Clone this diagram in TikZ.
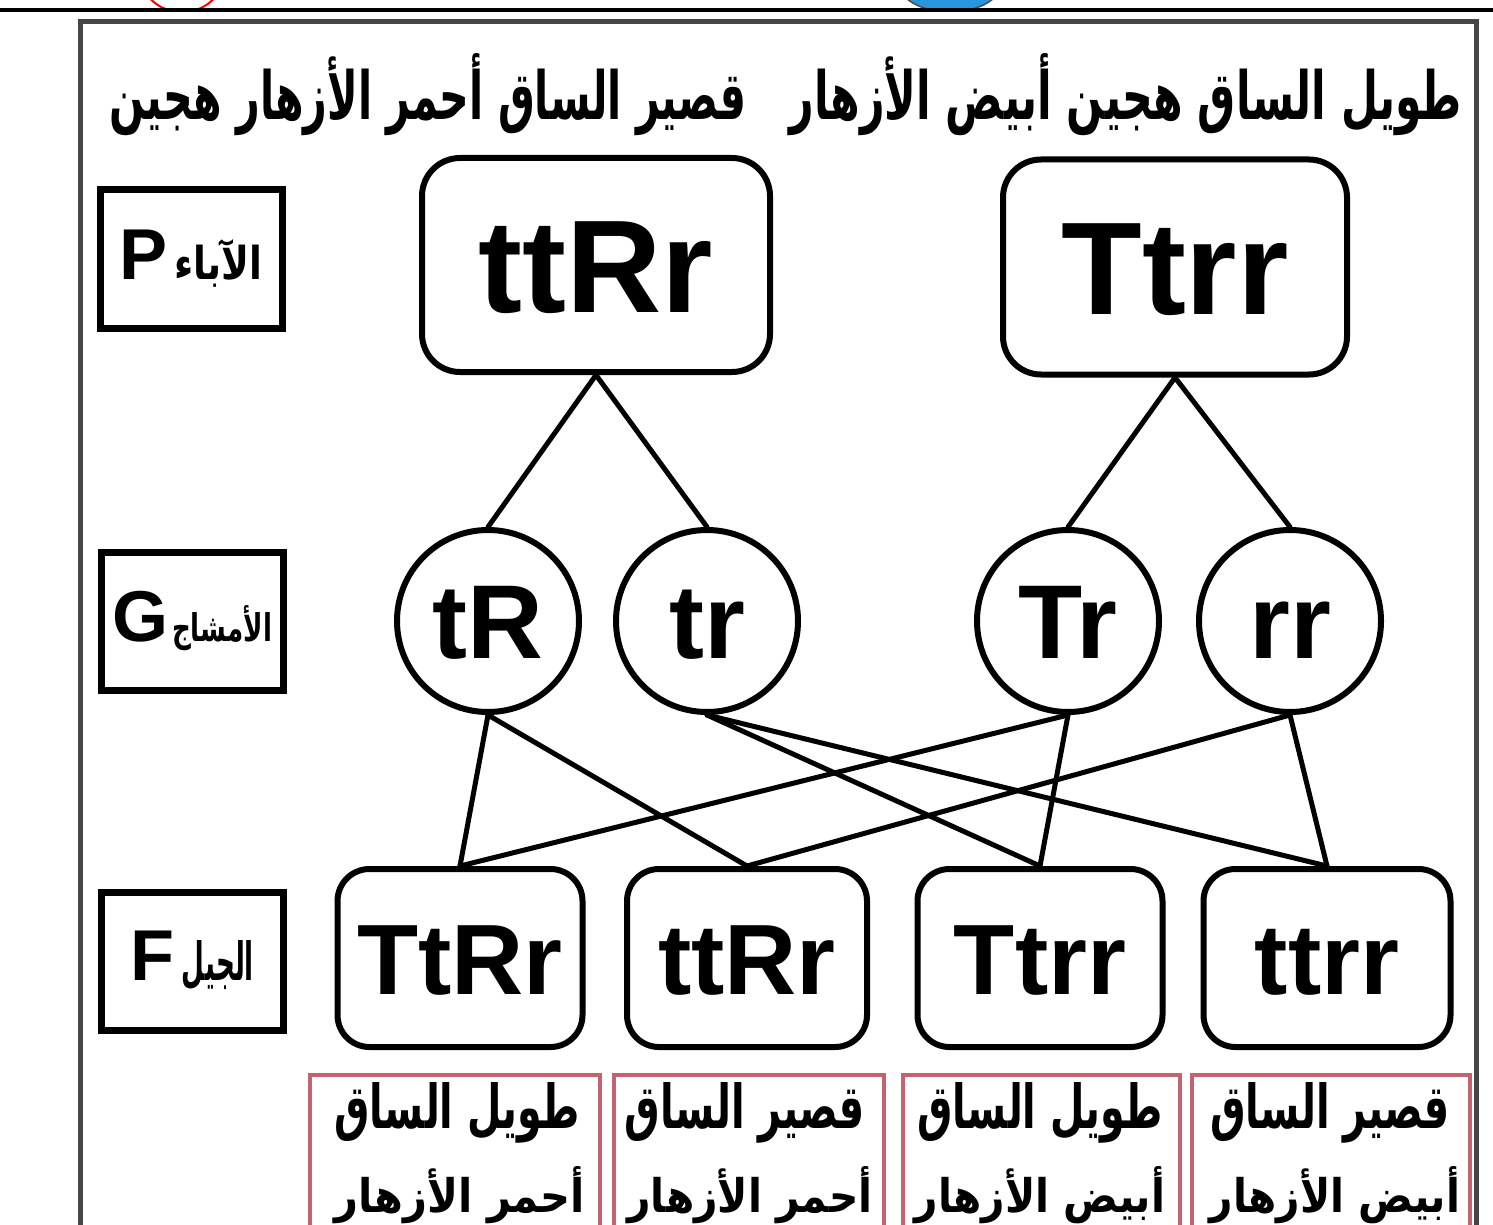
\documentclass[tikz,border=0pt]{standalone}
\usepackage{fontspec}
\usepackage{graphicx}
\setmainfont{Liberation Sans}
\newfontfamily\arabicfont[Script=Arabic]{DejaVu Sans}
\TeXXeTstate=1
\newcommand\arb{\arabicfont\bfseries}
\definecolor{redframe}{RGB}{196,98,112}
\definecolor{blueblob}{RGB}{40,150,220}
\definecolor{framegray}{RGB}{70,70,70}
\tikzset{
  lblbox/.style={draw=black, line width=7pt, minimum width=182pt, minimum height=138pt, inner sep=0pt,
    font=\fontsize{72}{72}\selectfont\bfseries},
  pbox/.style={draw=black, line width=6pt, rounded corners=38pt, inner sep=0pt,
    text height=95pt, text depth=0pt,
    font=\fontsize{132}{132}\selectfont\bfseries},
  gcirc/.style={circle, draw=black, line width=6pt, minimum size=182pt, inner sep=0pt,
    text height=75pt, text depth=0pt,
    font=\fontsize{105}{105}\selectfont\bfseries},
  fbox/.style={draw=black, line width=6pt, rounded corners=32pt, minimum height=178pt, inner sep=0pt,
    text height=72pt, text depth=0pt,
    font=\fontsize{100}{100}\selectfont\bfseries},
  redbox/.style={draw=redframe, line width=4.5pt, minimum height=180pt, inner sep=0pt},
  redtxt/.style={inner sep=0pt},
  hdr/.style={inner sep=0pt},
  link/.style={draw=black, line width=5pt, line cap=round},
}
\begin{document}
\begin{tikzpicture}[x=1pt,y=-1pt]
\useasboundingbox (0,0) rectangle (1493,1225);
\fill[white] (0,0) rectangle (1493,1225);
\begin{scope}
\clip (0,0) rectangle (1493,1225);
% top remnants
\draw[red, line width=2pt] (182,-22) ellipse [x radius=40pt, y radius=34pt];
\filldraw[fill=blueblob, draw=black!70, line width=1.5pt] (950,-18) ellipse [x radius=52pt, y radius=30pt];
\fill[white] (0,12) rectangle (1493,20);
\draw[black, line width=4pt] (0,10) -- (1493,10);
% outer frame
\draw[framegray, line width=5pt] (80,22) rectangle (1476,1280);

% header texts
\node[hdr] (hleft) at (428,95) {\resizebox{636pt}{66pt}{\arb\beginR قصير الساق أحمر الأزهار هجين\endR}};
\node[hdr] (hright) at (1126,95) {\resizebox{672pt}{66pt}{\arb\beginR طويل الساق هجين أبيض الأزهار\endR}};

% label boxes
\node[lblbox] (lp) at (191,259) {P\hspace{6pt}\resizebox{88pt}{40pt}{\arb\beginR الآباء\endR}};
\node[lblbox] (lg) at (192,621) {G\hspace{4pt}\resizebox{100pt}{36pt}{\arb\beginR الأمشاج\endR}};
\node[lblbox] (lf) at (192,961) {F\hspace{8pt}\resizebox{72pt}{40pt}{\arb\beginR الجيل\endR}};

% parents
\node[pbox, minimum width=348pt, minimum height=214pt] (p1) at (596,265) {ttRr};
\node[pbox, minimum width=344pt, minimum height=215pt] (p2) at (1175,267) {Ttrr};

% gametes
\node[gcirc] (g1) at (488,621) {tR};
\node[gcirc] (g2) at (707,621) {tr};
\node[gcirc] (g3) at (1068,621) {Tr};
\node[gcirc] (g4) at (1290,621) {rr};

% offspring
\node[fbox, minimum width=245pt] (f1) at (460,958) {TtRr};
\node[fbox, minimum width=240pt] (f2) at (747,958) {ttRr};
\node[fbox, minimum width=245pt] (f3) at (1040,958) {Ttrr};
\node[fbox, minimum width=247pt] (f4) at (1327,958) {ttrr};

% connectors parents -> gametes
\path[link] (p1.south) -- (g1.north);
\path[link] (p1.south) -- (g2.north);
\path[link] (p2.south) -- (g3.north);
\path[link] (p2.south) -- (g4.north);

% connectors gametes -> offspring
\path[link] (g1.south) -- (f1.north);
\path[link] (g1.south) -- (f2.north);
\path[link] (g2.south) -- (f3.north);
\path[link] (g2.south) -- (f4.north);
\path[link] (g3.south) -- (f1.north);
\path[link] (g3.south) -- (f3.north);
\path[link] (g4.south) -- (f2.north);
\path[link] (g4.south) -- (f4.north);

% phenotype boxes
\node[redbox, minimum width=290pt] (r1) at (455,1165) {};
\node[redbox, minimum width=270pt] (r2) at (749,1165) {};
\node[redbox, minimum width=277pt] (r3) at (1041.5,1165) {};
\node[redbox, minimum width=278pt] (r4) at (1331,1165) {};
\node[redtxt] (t1a) at (457,1113) {\resizebox{245pt}{46pt}{\arb\beginR طويل الساق\endR}};
\node[redtxt] (t1b) at (460,1195) {\resizebox{250pt}{46pt}{\arb\beginR أحمر الأزهار\endR}};
\node[redtxt] (t2a) at (745,1113) {\resizebox{240pt}{46pt}{\arb\beginR قصير الساق\endR}};
\node[redtxt] (t2b) at (750,1195) {\resizebox{245pt}{46pt}{\arb\beginR أحمر الأزهار\endR}};
\node[redtxt] (t3a) at (1040,1113) {\resizebox{245pt}{46pt}{\arb\beginR طويل الساق\endR}};
\node[redtxt] (t3b) at (1040,1195) {\resizebox{250pt}{46pt}{\arb\beginR أبيض الأزهار\endR}};
\node[redtxt] (t4a) at (1330,1113) {\resizebox{240pt}{46pt}{\arb\beginR قصير الساق\endR}};
\node[redtxt] (t4b) at (1335,1195) {\resizebox{250pt}{46pt}{\arb\beginR أبيض الأزهار\endR}};
\end{scope}
\end{tikzpicture}
\end{document}
